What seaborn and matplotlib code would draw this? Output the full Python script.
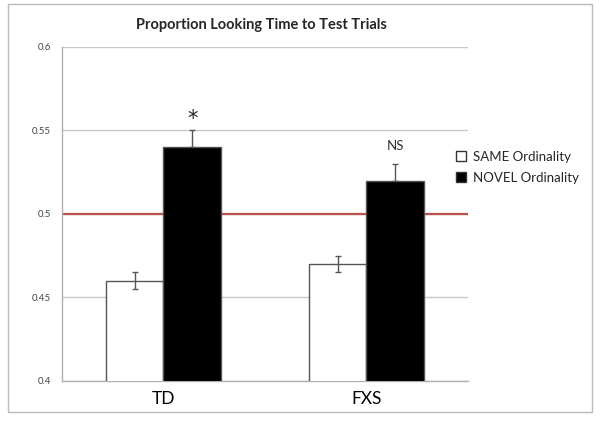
import pandas as pd
import matplotlib.pyplot as plt
import seaborn as sns
from matplotlib.lines import Line2D
from matplotlib.patches import Rectangle

# values
groups = ['TD', 'FXS']
conditions = ['SAME Ordinality', 'NOVEL Ordinality']
same_vals = [0.46, 0.47]
novel_vals = [0.54, 0.52]
same_err = [0.005, 0.005]
novel_err = [0.01, 0.01]
marks = ['*', 'NS']

df = pd.DataFrame({
    'group': groups * 2,
    'condition': [conditions[0]] * 2 + [conditions[1]] * 2,
    'value': same_vals + novel_vals,
})

sns.set_style('white')
plt.rcParams['font.family'] = ['Lato', 'DejaVu Sans']

fig = plt.figure(figsize=(6, 4.23), dpi=100)
ax = fig.add_axes([0.1033, 0.0993, 0.6767, 0.7896])

sns.barplot(data=df, x='group', y='value', hue='condition', order=groups,
            hue_order=conditions, palette=['white', 'black'], width=0.57,
            errorbar=None, edgecolor='#555555', linewidth=1.0, ax=ax,
            legend=False, zorder=3)
ax.set_xlim(-0.5, 1.5)

# error bars, placed at the centres of the drawn bars
bars = ax.patches
centers = [b.get_x() + b.get_width() / 2 for b in bars]
same_x = centers[:2]
novel_x = centers[2:]
ax.errorbar(same_x, same_vals, yerr=same_err, fmt='none', ecolor='#555555',
            elinewidth=1, capsize=2.5, zorder=4)
ax.errorbar(novel_x, novel_vals, yerr=[[0, 0], novel_err], fmt='none',
            ecolor='#555555', elinewidth=1, capsize=2.5, zorder=2)

ax.text(novel_x[0], 0.557, marks[0], ha='center', va='center', fontsize=15,
        color='#222222', family='DejaVu Sans')
ax.text(novel_x[1], 0.541, marks[1], ha='center', va='center', fontsize=9.5,
        color='#333333')

ax.axhline(0.5, color='#c0504d', linewidth=1.6, zorder=2.5)

ax.set_ylim(0.4, 0.6)
ax.set_yticks([0.4, 0.45, 0.5, 0.55, 0.6])
ax.set_yticklabels(['0.4', '0.45', '0.5', '0.55', '0.6'])
ax.yaxis.grid(True, color='#c8c8c8', linewidth=1)
ax.set_axisbelow(True)
ax.tick_params(axis='y', labelsize=7, colors='#444444', length=0, pad=8)
ax.tick_params(axis='x', labelsize=12.5, colors='black', length=0, pad=7)
ax.set_xlabel('')
ax.set_ylabel('')
for s in ['top', 'right']:
    ax.spines[s].set_visible(False)
for s in ['left', 'bottom']:
    ax.spines[s].set_color('#b0b0b0')
    ax.spines[s].set_linewidth(1)

handles = [Line2D([], [], marker='s', linestyle='none', markersize=6.5,
                  markerfacecolor=c, markeredgecolor='#333333')
           for c in ['white', 'black']]
fig.legend(handles, conditions, loc='upper left',
           bbox_to_anchor=(0.727, 0.672), frameon=False, fontsize=9.5,
           handletextpad=-0.1, labelspacing=0.7)

fig.text(0.435, 1 - 25 / 423, 'Proportion Looking Time to Test Trials',
         ha='center', va='center', fontsize=10.5, fontweight='bold')

# outer chart frame
fig.patches.append(Rectangle((8 / 600, 1 - 412 / 423), 584 / 600, 408 / 423,
                             transform=fig.transFigure, fill=False,
                             edgecolor='#bbbbbb', linewidth=1))

plt.savefig('out.png', dpi=100)
